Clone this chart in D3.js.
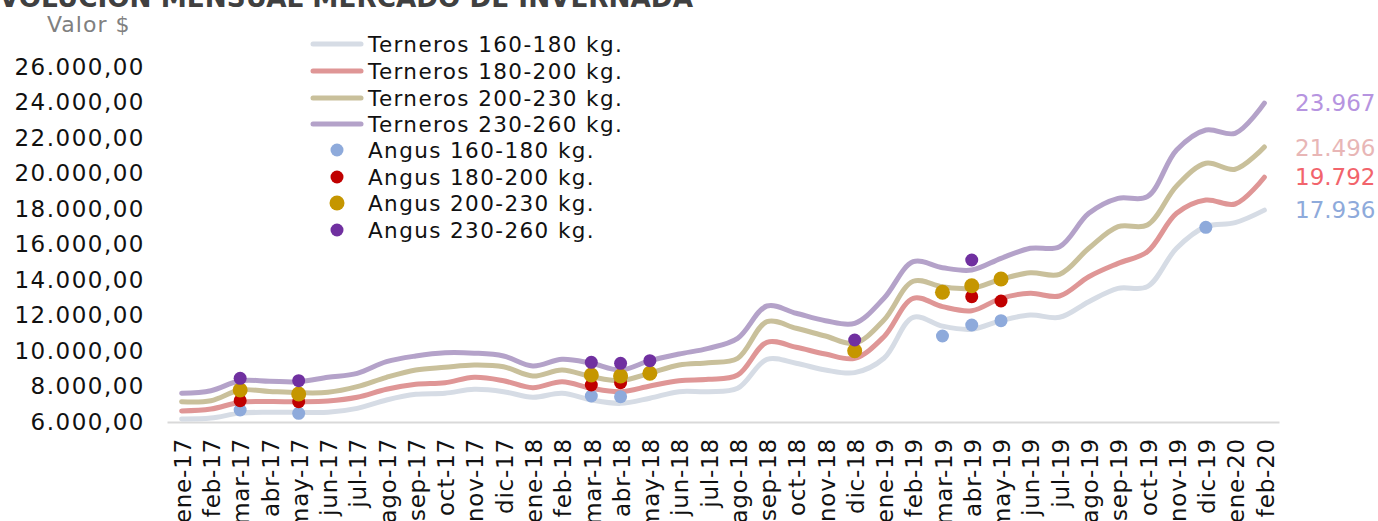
<!DOCTYPE html>
<html><head><meta charset="utf-8">
<script src="https://cdn.jsdelivr.net/npm/d3@7"></script>
<style>
body{margin:0;background:#fff;}
svg{display:block;font-family:"DejaVu Sans",sans-serif;}
</style></head>
<body><svg id="c" width="1378" height="521"></svg>
<script>
const months = ["ene-17","feb-17","mar-17","abr-17","may-17","jun-17","jul-17","ago-17","sep-17","oct-17","nov-17","dic-17",
"ene-18","feb-18","mar-18","abr-18","may-18","jun-18","jul-18","ago-18","sep-18","oct-18","nov-18","dic-18",
"ene-19","feb-19","mar-19","abr-19","may-19","jun-19","jul-19","ago-19","sep-19","oct-19","nov-19","dic-19",
"ene-20","feb-20"];
const terneros160 = [6170,6220,6500,6550,6550,6550,6770,7240,7560,7620,7840,7710,7390,7620,7240,7050,7340,7710,7710,7900,9530,9310,8930,8780,9590,11900,11400,11225,11710,12030,11900,12780,13530,13625,15790,17005,17230,17936];
const terneros180 = [6620,6730,7110,7150,7144,7183,7391,7842,8124,8214,8518,8327,7932,8270,7899,7707,8028,8327,8406,8648,10490,10208,9831,9589,10806,12969,12498,12272,12969,13251,13099,14186,14939,15594,17758,18507,18282,19792];
const terneros200 = [7144,7200,7803,7720,7651,7673,7989,8518,8930,9082,9211,9115,8592,8930,8552,8327,8744,9211,9341,9589,11651,11279,10845,10434,11746,13930,13620,13532,14039,14411,14321,15786,17005,17099,19296,20575,20237,21496];
const terneros230 = [7617,7763,8327,8300,8270,8518,8744,9397,9718,9904,9880,9718,9155,9532,9307,8930,9455,9831,10150,10715,12535,12124,11709,11560,12969,15031,14690,14563,15222,15786,15876,17758,18603,18693,21324,22451,22265,23967];
const angus160 = {"mar-17":6676,"may-17":6490,"mar-18":7465,"abr-18":7427,"mar-19":10845,"abr-19":11465,"may-19":11709,"dic-19":16969};
const angus180 = {"mar-17":7200,"may-17":7144,"mar-18":8085,"abr-18":8214,"abr-19":13061,"may-19":12817};
const angus200 = {"mar-17":7803,"may-17":7577,"mar-18":8648,"abr-18":8592,"may-18":8744,"dic-18":10018,"mar-19":13306,"abr-19":13680,"may-19":14056};
const angus230 = {"mar-17":8462,"may-17":8327,"mar-18":9363,"abr-18":9307,"may-18":9455,"dic-18":10620,"abr-19":15127};
const yTicks = [6000,8000,10000,12000,14000,16000,18000,20000,22000,24000,26000];
const lineNames = ["Terneros 160-180 kg.","Terneros 180-200 kg.","Terneros 200-230 kg.","Terneros 230-260 kg."];
const dotNames = ["Angus 160-180 kg.","Angus 180-200 kg.","Angus 200-230 kg.","Angus 230-260 kg."];
const lineColors = ["#d6dce5","#df9696","#c9c09b","#b4a2c9"];
const dotColors = ["#8eaadb","#c00000","#c59600","#7030a0"];
const endLabelColors = ["#8eaadb","#f2646c","#e8b6b6","#b694e0"];
const title = "EVOLUCIÓN MENSUAL MERCADO DE INVERNADA";
const yTitle = "Valor $";

const svg = d3.select("#c");
const x = d3.scaleBand().domain(months).range([167,1279]);
const cx = m => x(m) + x.bandwidth()/2;
const y = d3.scaleLinear().domain([6000,26000]).range([422,67]);
const loc = d3.formatLocale({decimal:",",thousands:".",grouping:[3],currency:["$",""]});
const fmt = loc.format(",.2f");
const fmt0 = loc.format(",.0f");

// title
svg.append("text").attr("x",-19).attr("y",7)
  .attr("textLength",712).attr("lengthAdjust","spacingAndGlyphs")
  .attr("font-size",26).attr("font-weight","bold").attr("fill","#404040").text(title);
svg.append("text").attr("x",47).attr("y",32).attr("font-size",22).attr("letter-spacing","1").attr("fill","#808080").text(yTitle);

// y axis
const ya = svg.append("g").attr("transform","translate(145,0)")
  .call(d3.axisLeft(y).tickValues(yTicks).tickSize(0).tickPadding(0).tickFormat(fmt));
ya.select(".domain").remove();
ya.selectAll("text").attr("font-size",23).attr("fill","#111").attr("font-family","DejaVu Sans").attr("letter-spacing","1.5");

// x axis
const xa = svg.append("g").attr("transform","translate(0,422)")
  .call(d3.axisBottom(x).tickSize(0).tickPadding(0));
xa.select(".domain").attr("stroke","#d9d9d9").attr("stroke-width",2);
xa.selectAll("text").attr("font-size",23).attr("fill","#111").attr("font-family","DejaVu Sans").attr("letter-spacing","0.8")
  .attr("text-anchor","end").attr("transform","rotate(-90)").attr("x",-16).attr("y",0).attr("dy","0.4em");

// lines
const series = [terneros160,terneros180,terneros200,terneros230];
const line = d3.line().x((d,i)=>cx(months[i])).y(d=>y(d)).curve(d3.curveCatmullRom.alpha(0.5));
series.forEach((s,k)=>{
  svg.append("path").datum(s).attr("d",line).attr("fill","none")
    .attr("stroke",lineColors[k]).attr("stroke-width",5).attr("stroke-linecap","round").attr("stroke-linejoin","round");
});

// dots
const dots = [angus160,angus180,angus200,angus230];
const radii = [6.5,6.5,7.5,6.5];
dots.forEach((obj,k)=>{
  const arr = Object.entries(obj);
  svg.append("g").selectAll("circle").data(arr).join("circle")
    .attr("cx",d=>cx(d[0])).attr("cy",d=>y(d[1])).attr("r",radii[k]).attr("fill",dotColors[k]);
});

// end labels
const endY = [210,177,148,103];
series.forEach((s,k)=>{
  svg.append("text").attr("x",1295).attr("y",endY[k]).attr("dy","0.36em")
    .attr("font-size",23).attr("fill",endLabelColors[k]).text(fmt0(s[s.length-1]));
});

// legend
const lg = svg.append("g");
const rowY = [44,71,98,124,150,177,203,230];
lineNames.forEach((n,k)=>{
  lg.append("line").attr("x1",313).attr("x2",361).attr("y1",rowY[k]).attr("y2",rowY[k])
    .attr("stroke",lineColors[k]).attr("stroke-width",5).attr("stroke-linecap","round");
  lg.append("text").attr("x",368).attr("y",rowY[k]).attr("dy","0.36em").attr("font-size",21.5).attr("letter-spacing","1.4").attr("fill","#111").text(n);
});
dotNames.forEach((n,k)=>{
  lg.append("circle").attr("cx",337).attr("cy",rowY[k+4]).attr("r",radii[k]).attr("fill",dotColors[k]);
  lg.append("text").attr("x",368).attr("y",rowY[k+4]).attr("dy","0.36em").attr("font-size",21.5).attr("letter-spacing","1.4").attr("fill","#111").text(n);
});
</script></body></html>
